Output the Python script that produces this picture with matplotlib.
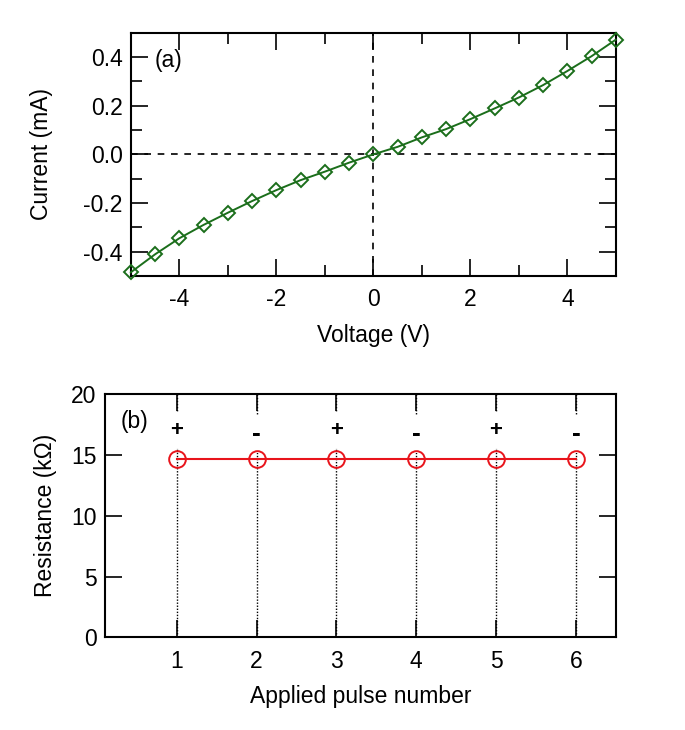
import matplotlib
matplotlib.use("Agg")
import matplotlib.pyplot as plt
import matplotlib.ticker as ticker
import numpy as np

plt.rcParams["font.family"] = ["Liberation Sans", "DejaVu Sans"]
plt.rcParams["axes.unicode_minus"] = False

# (a) I-V sweep
voltage = [-5.0, -4.5, -4.0, -3.5, -3.0, -2.5, -2.0, -1.5, -1.0, -0.5, 0.0,
           0.5, 1.0, 1.5, 2.0, 2.5, 3.0, 3.5, 4.0, 4.5, 5.0]
current = [-0.485, -0.411, -0.345, -0.290, -0.240, -0.192, -0.147, -0.106, -0.071, -0.034, 0.0,
           0.031, 0.070, 0.104, 0.145, 0.189, 0.234, 0.285, 0.343, 0.404, 0.472]

# (b) resistance after each pulse
pulse_number = [1, 2, 3, 4, 5, 6]
resistance = [14.7, 14.7, 14.7, 14.7, 14.7, 14.7]
pulse_sign = ["+", "-", "+", "-", "+", "-"]

GREEN = "#1b6e1b"
RED = "#e8141b"
FS = 16.5

fig = plt.figure(figsize=(6.85, 7.30), dpi=100)
ax1 = fig.add_axes([0.191, 0.622, 0.708, 0.333])
ax2 = fig.add_axes([0.153, 0.127, 0.746, 0.333])

# --- panel (a)
ax1.axhline(0, color="black", linestyle=(0, (4, 4)), linewidth=1.2, zorder=1)
ax1.axvline(0, color="black", linestyle=(0, (4, 4)), linewidth=1.2, zorder=1)
ax1.plot(voltage, current, color=GREEN, linewidth=1.4, marker="D", markersize=7,
         markerfacecolor="none", markeredgecolor=GREEN, markeredgewidth=1.4, zorder=3,
         clip_on=False)
ax1.set_xlim(-5, 5)
ax1.set_ylim(-0.5, 0.5)
ax1.xaxis.set_major_locator(ticker.MultipleLocator(2))
ax1.xaxis.set_minor_locator(ticker.MultipleLocator(1))
ax1.yaxis.set_major_locator(ticker.MultipleLocator(0.2))
ax1.yaxis.set_minor_locator(ticker.MultipleLocator(0.1))
ax1.yaxis.set_major_formatter(ticker.FormatStrFormatter("%.1f"))
ax1.set_xlabel("Voltage (V)", fontsize=FS, labelpad=9)
ax1.set_ylabel("Current (mA)", fontsize=FS, labelpad=22)
ax1.text(0.05, 0.86, "(a)", transform=ax1.transAxes, fontsize=FS)

# --- panel (b)
for x, s in zip(pulse_number, pulse_sign):
    ax2.axvline(x, color="black", linestyle=(0, (1, 1.2)), linewidth=1.0, zorder=1)
    if s == "+":
        ax2.text(x, 17.0, "+", ha="center", va="center", fontsize=16, fontweight="bold",
                 bbox=dict(facecolor="white", edgecolor="none", pad=5), zorder=2)
    else:
        ax2.text(x, 16.7, "-", ha="center", va="center", fontsize=19, fontweight="bold",
                 bbox=dict(facecolor="white", edgecolor="none", pad=5), zorder=2)
ax2.plot(pulse_number, resistance, color=RED, linewidth=1.5, marker="o", markersize=12,
         markerfacecolor="none", markeredgecolor=RED, markeredgewidth=1.4, zorder=3)
ax2.set_xlim(0.1, 6.5)
ax2.set_ylim(0, 20)
ax2.xaxis.set_major_locator(ticker.FixedLocator(pulse_number))
ax2.yaxis.set_major_locator(ticker.MultipleLocator(5))
ax2.set_xlabel("Applied pulse number", fontsize=FS, labelpad=9)
ax2.set_ylabel("Resistance (k\u03a9)", fontsize=FS, labelpad=10)
ax2.text(0.03, 0.86, "(b)", transform=ax2.transAxes, fontsize=FS)

for ax in (ax1, ax2):
    ax.tick_params(which="both", direction="in", top=True, right=True,
                   labelsize=FS, width=1.2)
    ax.tick_params(which="major", length=12)
    ax.tick_params(which="minor", length=8)
    ax.tick_params(axis="x", which="both", pad=9)
    ax.tick_params(axis="y", which="both", pad=6)
    for sp in ax.spines.values():
        sp.set_linewidth(1.5)

plt.savefig("out.png", dpi=100)
plt.close()
